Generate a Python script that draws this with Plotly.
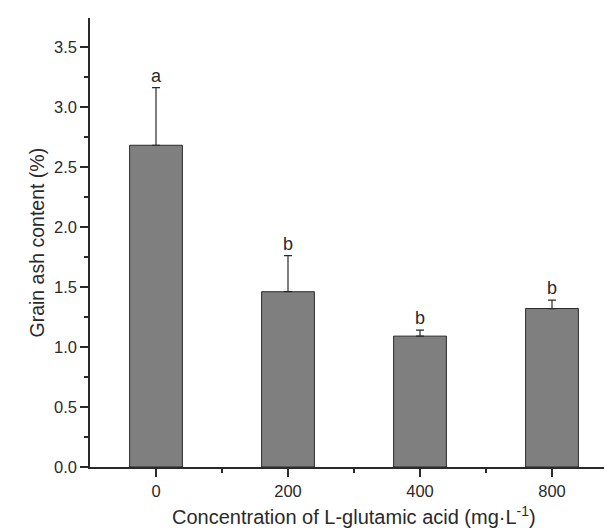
import plotly.graph_objects as go

categories = ["0", "200", "400", "800"]
values = [2.68, 1.46, 1.09, 1.32]
errors = [0.48, 0.30, 0.05, 0.07]
letters = ["a", "b", "b", "b"]

FONT = "Liberation Sans, Arial, sans-serif"
INK = "#2a2a2a"

fig = go.Figure()
fig.add_trace(go.Bar(
    x=list(range(len(categories))), y=values, width=0.4,
    marker=dict(color="#7f7f7f", line=dict(color=INK, width=1)),
    error_y=dict(type="data", array=errors, symmetric=False, arrayminus=[0]*4,
                 color=INK, thickness=1.2, width=4),
    showlegend=False,
))

for i, (v, e, l) in enumerate(zip(values, errors, letters)):
    fig.add_annotation(x=i, y=v + e, text=l, showarrow=False, yanchor="bottom",
                       yshift=0, font=dict(family=FONT, size=18, color=INK))

# axis titles
fig.add_annotation(xref="paper", yref="paper", x=0.5, y=0, yshift=-48,
                   text="Concentration of L-glutamic acid (mg·L<sup>-1</sup>)",
                   showarrow=False, yanchor="middle",
                   font=dict(family=FONT, size=20, color=INK))
fig.add_annotation(xref="paper", yref="paper", x=0, y=0.5, xshift=-54,
                   text="Grain ash content (%)", textangle=-90,
                   showarrow=False, xanchor="center",
                   font=dict(family=FONT, size=19.5, color=INK))

fig.update_layout(
    width=612, height=530,
    margin=dict(l=82, r=2, t=10, b=71, autoexpand=False),
    plot_bgcolor="white", paper_bgcolor="white",
    font=dict(family=FONT, size=16.5, color=INK),
)
fig.update_xaxes(
    range=[-0.5, 3.5], tickmode="array", tickvals=list(range(4)), ticktext=categories,
    showline=True, linecolor=INK, linewidth=1.5, ticks="outside", ticklen=8,
    tickwidth=1.5, tickcolor=INK, showgrid=False, zeroline=False, automargin=False,
    minor=dict(tickvals=[0.5, 1.5, 2.5], ticks="outside", ticklen=4, tickwidth=1.5, tickcolor=INK),
    tickfont=dict(size=16.5),
)
fig.update_yaxes(
    range=[0, 3.74], tickmode="array", tickvals=[0, 0.5, 1, 1.5, 2, 2.5, 3, 3.5],
    ticktext=["0.0", "0.5", "1.0", "1.5", "2.0", "2.5", "3.0", "3.5"],
    showline=True, linecolor=INK, linewidth=1.5, ticks="outside", ticklen=8,
    tickwidth=1.5, tickcolor=INK, showgrid=False, zeroline=False, automargin=False,
    minor=dict(tickvals=[0.25, 0.75, 1.25, 1.75, 2.25, 2.75, 3.25], ticks="outside",
               ticklen=4, tickwidth=1.5, tickcolor=INK),
    tickfont=dict(size=16.5),
)

fig.write_html("out.html")
